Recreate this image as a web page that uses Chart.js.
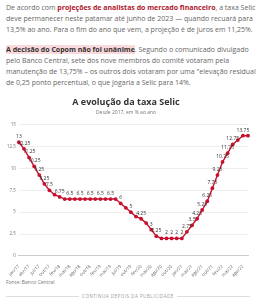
<!DOCTYPE html>
<html lang="pt-BR">
<head>
<meta charset="utf-8">
<script src="https://cdn.jsdelivr.net/npm/chart.js@4"></script>
<style>
  body { margin: 0; background: #fff; width: 256px; height: 300px; overflow: hidden; font-family: "Open Sans", sans-serif; }
  .txt { position: absolute; left: 6px; font-size: 7px; line-height: 11px; color: #666; white-space: nowrap; }
  .red { color: #b0162c; font-weight: bold; }
  .hl { color: #333; font-weight: bold; background: #f9d9dc; }
  #chartBox { position: absolute; left: 0; top: 94px; }
  .fonte { position: absolute; left: 6px; top: 279px; font-size: 5px; color: #777; }
  .sep { position: absolute; left: 6px; width: 244px; top: 296px; border-top: 1px solid #ddd; }
  .pub { position: absolute; left: 0; width: 256px; top: 293px; text-align: center; font-size: 4.5px; letter-spacing: 0.5px; color: #999; }
  .pub span { background: #fff; padding: 0 3px; }
</style>
</head>
<body>
<div class="txt" style="top:2px">De acordo com <span class="red">projeções de analistas do mercado financeiro</span>, a taxa Selic<br>deve permanecer neste patamar até junho de 2023 — quando recuará para<br>13,5% ao ano. Para o fim do ano que vem, a projeção é de juros em 11,25%.</div>
<div class="txt" style="top:44px"><span class="hl">A decisão do Copom não foi unânime</span>. Segundo o comunicado divulgado<br>pelo Banco Central, sete dos nove membros do comitê votaram pela<br>manutenção de 13,75% – os outros dois votaram por uma "elevação residual"<br>de 0,25 ponto percentual, o que jogaria a Selic para 14%.</div>

<div id="chartBox"><canvas id="selic" width="256" height="184"></canvas></div>
<div class="fonte">Fonte: Banco Central</div>
<div class="sep"></div>
<div class="pub"><span>CONTINUA DEPOIS DA PUBLICIDADE</span></div>

<script>
// reuniões do Copom (jan/17 -> set/22)
const meses = ['jan/17','fev/17','abr/17','mai/17','jul/17','set/17','out/17','dez/17',
  'fev/18','mar/18','mai/18','jun/18','ago/18','set/18','out/18','dez/18',
  'fev/19','mar/19','mai/19','jun/19','jul/19','set/19','out/19','dez/19',
  'fev/20','mar/20','mai/20','jun/20','ago/20','set/20','out/20','dez/20',
  'jan/21','mar/21','mai/21','jun/21','ago/21','set/21','out/21','dez/21',
  'fev/22','mar/22','mai/22','jun/22','ago/22','set/22'];

const taxa = [13, 12.25, 11.25, 10.25, 9.25, 8.25, 7.5, 7,
  6.75, 6.5, 6.5, 6.5, 6.5, 6.5, 6.5, 6.5,
  6.5, 6.5, 6.5, 6.5, 6, 5.5, 5, 4.5,
  4.25, 3.75, 3, 2.25, 2, 2, 2, 2,
  2, 2.75, 3.5, 4.25, 5.25, 6.25, 7.75, 9.25,
  10.75, 11.75, 12.75, 13.25, 13.75, 13.75];

const yTicks = [0, 2.5, 5, 7.5, 10, 12.5, 15];

// rótulos nos pontos (sem sobreposição)
const rotulos = {
    id: 'rotulos',
    afterDatasetsDraw(chart) {
        const ctx = chart.ctx;
        const meta = chart.getDatasetMeta(0);
        const feitos = [];
        ctx.save();
        ctx.font = '5px "Open Sans"';
        ctx.fillStyle = '#333';
        ctx.textAlign = 'center';
        ctx.textBaseline = 'bottom';
        meta.data.forEach((p, i) => {
            const txt = String(taxa[i]);
            const w = ctx.measureText(txt).width;
            const box = { x1: p.x - w / 2, x2: p.x + w / 2, y1: p.y - 9, y2: p.y - 3 };
            const bate = feitos.some(b => box.x1 < b.x2 + 0.5 && box.x2 > b.x1 - 0.5 && box.y1 < b.y2 && box.y2 > b.y1);
            if (bate) return;
            feitos.push(box);
            ctx.fillText(txt, p.x, p.y - 3);
        });
        ctx.restore();
    }
};

const ctx = document.getElementById('selic').getContext('2d');
new Chart(ctx, {
    type: 'line',
    data: {
        labels: meses,
        datasets: [{
            data: taxa,
            borderColor: '#c8102e',
            backgroundColor: '#c8102e',
            borderWidth: 1.4,
            pointRadius: 1.9,
            pointBorderWidth: 0,
            tension: 0
        }]
    },
    options: {
        responsive: false,
        devicePixelRatio: 1,
        animation: false,
        layout: { padding: { left: 4, right: 8, top: 0, bottom: 0 } },
        plugins: {
            legend: { display: false },
            tooltip: { enabled: false },
            title: {
                display: true,
                text: 'A evolução da taxa Selic',
                color: '#333',
                font: { family: 'Open Sans', size: 9, weight: 'bold' },
                padding: { top: 3, bottom: 2 }
            },
            subtitle: {
                display: true,
                text: 'Desde 2017, em % ao ano',
                color: '#777',
                font: { family: 'Open Sans', size: 5 },
                padding: { bottom: 9 }
            }
        },
        scales: {
            x: {
                grid: { display: false },
                border: { color: '#ccc' },
                ticks: {
                    autoSkip: false,
                    minRotation: 45,
                    maxRotation: 45,
                    color: '#666',
                    font: { family: 'Open Sans', size: 4.5 },
                    padding: 0,
                    callback: (v, i) => (i % 2 === 0 ? meses[i] : '')
                }
            },
            y: {
                min: 0,
                max: 15,
                afterBuildTicks: axis => { axis.ticks = yTicks.map(v => ({ value: v })); },
                grid: { color: '#eee', drawTicks: false },
                border: { display: false },
                ticks: {
                    color: '#777',
                    font: { family: 'Open Sans', size: 4.5 },
                    padding: 3
                }
            }
        }
    },
    plugins: [rotulos]
});
</script>
</body>
</html>
